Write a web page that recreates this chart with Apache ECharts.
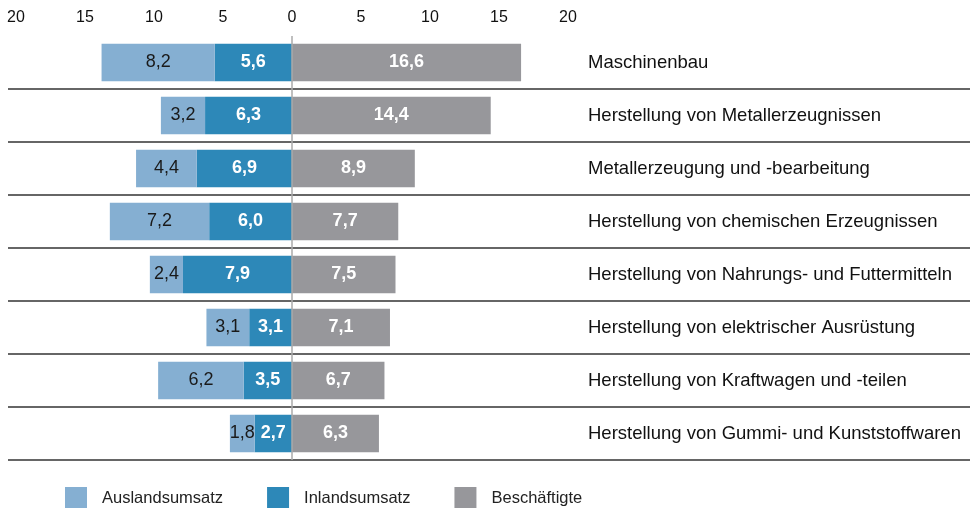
<!DOCTYPE html>
<html><head><meta charset="utf-8">
<script src="https://cdn.jsdelivr.net/npm/echarts@6/dist/echarts.min.js"></script>
<style>html,body{margin:0;padding:0;background:#fff}#c{width:970px;height:508px}</style>
</head><body><div id="c"></div>
<script>
const categories = [
  'Maschinenbau',
  'Herstellung von Metallerzeugnissen',
  'Metallerzeugung und -bearbeitung',
  'Herstellung von chemischen Erzeugnissen',
  'Herstellung von Nahrungs- und Futtermitteln',
  'Herstellung von elektrischer Ausrüstung',
  'Herstellung von Kraftwagen und -teilen',
  'Herstellung von Gummi- und Kunststoffwaren'
];
const auslandsumsatz = [8.2, 3.2, 4.4, 7.2, 2.4, 3.1, 6.2, 1.8];
const inlandsumsatz  = [5.6, 6.3, 6.9, 6.0, 7.9, 3.1, 3.5, 2.7];
const beschaeftigte  = [16.6, 14.4, 8.9, 7.7, 7.5, 7.1, 6.7, 6.3];
const seriesNames = ['Auslandsumsatz', 'Inlandsumsatz', 'Beschäftigte'];
const colors = { aus: '#85afd2', in: '#2d88b8', bes: '#97979b' };

const FONT = 'Liberation Sans, Arial, sans-serif';
const fmt = v => Math.abs(v).toFixed(1).replace('.', ',');

const chart = echarts.init(document.getElementById('c'), null, { renderer: 'canvas' });
chart.setOption({
  animation: false,
  textStyle: { fontFamily: FONT },
  legend: {
    data: seriesNames,
    left: 65, top: 487, padding: 0,
    itemWidth: 22, itemHeight: 22, itemGap: 44,
    icon: 'rect',
    textStyle: { fontSize: 16.5, color: '#222', fontFamily: FONT, padding: [0, 0, 0, 10] }
  },
  grid: [
    { left: 16, right: 402, top: 36, height: 424 },
    { left: 8, right: 0, top: 36, height: 424 }
  ],
  xAxis: [
    {
      gridIndex: 0, type: 'value', position: 'top',
      min: -20, max: 20, interval: 5,
      axisLine: { show: false }, axisTick: { show: false },
      splitLine: { show: false },
      axisLabel: { fontSize: 16, color: '#111', margin: 10, formatter: v => String(Math.abs(v)) }
    },
    { gridIndex: 1, type: 'value', show: false, min: 0, max: 1 }
  ],
  yAxis: [
    {
      gridIndex: 0, type: 'category', data: categories, inverse: true, position: 'right',
      axisLine: { show: false }, axisTick: { show: false },
      axisLabel: { fontSize: 18.5, color: '#111', margin: 20, align: 'left' }
    },
    {
      gridIndex: 1, type: 'value', inverse: true, min: 0, max: categories.length, interval: 1,
      axisLine: { show: false }, axisTick: { show: false }, axisLabel: { show: false },
      splitLine: { show: true, showMinLine: false, lineStyle: { color: '#333', width: 1.5 } }
    }
  ],
  series: [
    {
      name: 'Inlandsumsatz', type: 'bar', stack: 'all', xAxisIndex: 0, yAxisIndex: 0,
      barCategoryGap: '29%',
      data: inlandsumsatz.map(v => -v),
      itemStyle: { color: colors.in },
      label: { show: true, position: 'inside', formatter: p => fmt(p.value), color: '#fff', fontWeight: 'bold', fontSize: 18 }
    },
    {
      name: 'Auslandsumsatz', type: 'bar', stack: 'all', xAxisIndex: 0, yAxisIndex: 0,
      barCategoryGap: '29%',
      data: auslandsumsatz.map(v => -v),
      itemStyle: { color: colors.aus },
      label: { show: true, position: 'inside', formatter: p => fmt(p.value), color: '#1a1a1a', fontSize: 18 }
    },
    {
      name: 'Beschäftigte', type: 'bar', stack: 'all', xAxisIndex: 0, yAxisIndex: 0,
      barCategoryGap: '29%',
      data: beschaeftigte,
      itemStyle: { color: colors.bes },
      label: { show: true, position: 'inside', formatter: p => fmt(p.value), color: '#fff', fontWeight: 'bold', fontSize: 18 },
      markLine: {
        silent: true, symbol: 'none', label: { show: false },
        lineStyle: { color: '#aaaaaa', width: 1.5, type: 'solid' },
        data: [{ xAxis: 0 }]
      }
    },
    {
      name: 'sep', type: 'scatter', xAxisIndex: 1, yAxisIndex: 1, data: [], silent: true
    }
  ]
});
</script></body></html>
